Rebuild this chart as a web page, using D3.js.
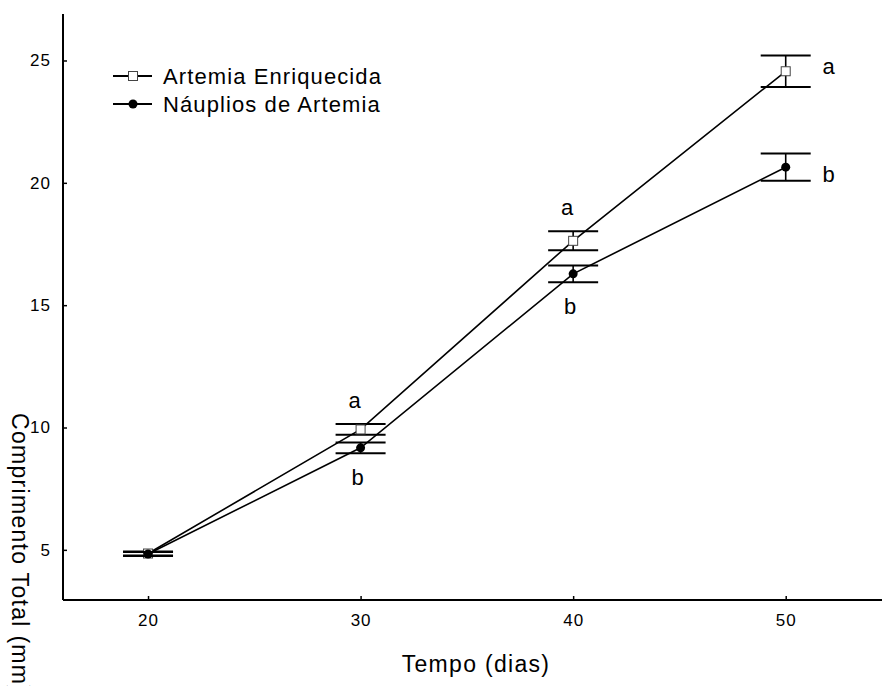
<!DOCTYPE html>
<html>
<head>
<meta charset="utf-8">
<script src="https://cdn.jsdelivr.net/npm/d3@7"></script>
<style>
  body { margin: 0; background: #fff; }
  svg { display: block; font-family: "Liberation Sans", Arial, sans-serif; }
  .tick text { font-size: 17px; letter-spacing: 1px; fill: #000; }
</style>
</head>
<body>
<svg width="882" height="686"></svg>
<script>
// dias de cultivo
var days = [20, 30, 40, 50];
// comprimento total medio (mm) e erro padrao
var enriquecida = [4.85, 9.92, 17.63, 24.56];
var enriquecidaErr = [0.08, 0.22, 0.39, 0.64];
var nauplios = [4.83, 9.17, 16.28, 20.64];
var naupliosErr = [0.08, 0.22, 0.34, 0.56];
// letras de significancia
var enriquecidaLetters = ["", "a", "a", "a"];
var naupliosLetters = ["", "b", "b", "b"];
var seriesNames = ["Artemia Enriquecida", "Náuplios de Artemia"];
var xTicks = [20, 30, 40, 50];
var yTicks = [5, 10, 15, 20, 25];

var svg = d3.select("svg");

var x = d3.scaleLinear().domain([16, 54.53]).range([63, 882]);
var y = d3.scaleLinear().domain([2.95, 26.9]).range([600, 14]);

var series = [
  { name: seriesNames[0], values: enriquecida, err: enriquecidaErr, letters: enriquecidaLetters, marker: "square" },
  { name: seriesNames[1], values: nauplios, err: naupliosErr, letters: naupliosLetters, marker: "circle" }
];

// axes
var xAxis = d3.axisBottom(x).tickValues(xTicks).tickSize(-4).tickPadding(14).tickFormat(d3.format("d"));
var yAxis = d3.axisLeft(y).tickValues(yTicks).tickSize(-4).tickPadding(12).tickFormat(d3.format("d"));

var gx = svg.append("g").attr("transform", "translate(0,600)").call(xAxis);
var gy = svg.append("g").attr("transform", "translate(63,0)").call(yAxis);
[gx, gy].forEach(function (g) {
  g.select(".domain").remove();
  g.selectAll(".tick line").attr("stroke", "#000").attr("stroke-width", 1.5);
});
gx.selectAll(".tick text").attr("dy", "0.71em");

svg.append("line").attr("x1", 63).attr("x2", 882).attr("y1", 600).attr("y2", 600)
  .attr("stroke", "#000").attr("stroke-width", 2);
svg.append("line").attr("x1", 63).attr("x2", 63).attr("y1", 14).attr("y2", 600)
  .attr("stroke", "#000").attr("stroke-width", 2);

// axis titles
svg.append("text")
  .attr("x", 476).attr("y", 672)
  .attr("text-anchor", "middle")
  .attr("font-size", 23).attr("letter-spacing", 1.3)
  .text("Tempo (dias)");
svg.append("text")
  .attr("transform", "translate(12,413) rotate(90)")
  .attr("font-size", 23).attr("letter-spacing", 1.3)
  .text("Comprimento Total (mm)");

var line = d3.line()
  .x(function (d, i) { return x(days[i]); })
  .y(function (d) { return y(d); });

series.forEach(function (s, si) {
  var g = svg.append("g");
  g.append("path").datum(s.values)
    .attr("d", line).attr("fill", "none")
    .attr("stroke", "#000").attr("stroke-width", 1.6);

  // error bars
  s.values.forEach(function (v, i) {
    var cx = x(days[i]), hi = y(v + s.err[i]), lo = y(v - s.err[i]);
    g.append("line").attr("x1", cx).attr("x2", cx).attr("y1", hi).attr("y2", lo)
      .attr("stroke", "#000").attr("stroke-width", 1.6);
    [hi, lo].forEach(function (yy) {
      g.append("line").attr("x1", cx - 25).attr("x2", cx + 25).attr("y1", yy).attr("y2", yy)
        .attr("stroke", "#000").attr("stroke-width", 2);
    });
  });

  // markers
  s.values.forEach(function (v, i) {
    var cx = x(days[i]), cy = y(v);
    if (s.marker === "square") {
      g.append("rect").attr("x", cx - 4.5).attr("y", cy - 4.5).attr("width", 9).attr("height", 9)
        .attr("fill", "#fff").attr("stroke", "#444").attr("stroke-width", 1);
    } else {
      g.append("circle").attr("cx", cx).attr("cy", cy).attr("r", 4.5).attr("fill", "#000");
    }
  });

  // letters
  s.values.forEach(function (v, i) {
    if (!s.letters[i]) return;
    var cx = x(days[i]), tx, ty;
    if (i === days.length - 1) {
      tx = cx + 43;
      ty = y(v) + (si === 0 ? -5 : 7);
    } else if (si === 0) {
      tx = cx - 6;
      ty = y(v + s.err[i]) - 24;
    } else {
      tx = cx - 3;
      ty = y(v - s.err[i]) + 24;
    }
    g.append("text").attr("x", tx).attr("y", ty).attr("dy", "0.35em")
      .attr("text-anchor", "middle").attr("font-size", 22)
      .text(s.letters[i]);
  });
});

// legend
var legend = svg.append("g");
series.forEach(function (s, i) {
  var ly = 76 + i * 28;
  legend.append("line").attr("x1", 113).attr("x2", 152).attr("y1", ly).attr("y2", ly)
    .attr("stroke", "#000").attr("stroke-width", 2);
  if (s.marker === "square") {
    legend.append("rect").attr("x", 128.5).attr("y", ly - 4.5).attr("width", 9).attr("height", 9)
      .attr("fill", "#fff").attr("stroke", "#444").attr("stroke-width", 1);
  } else {
    legend.append("circle").attr("cx", 133).attr("cy", ly).attr("r", 4.5).attr("fill", "#000");
  }
  legend.append("text").attr("x", 163).attr("y", ly).attr("dy", "0.35em")
    .attr("font-size", 22).attr("letter-spacing", 1.1)
    .text(s.name);
});
</script>
</body>
</html>
